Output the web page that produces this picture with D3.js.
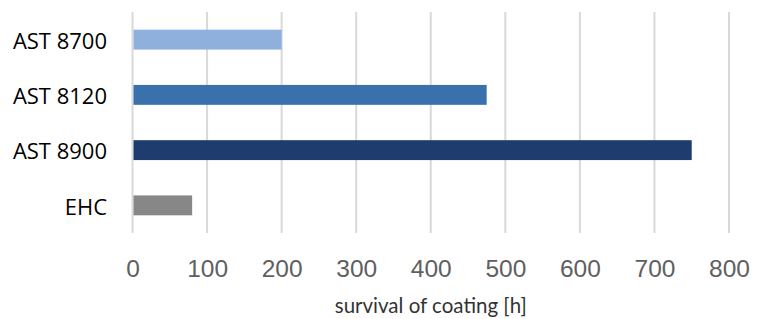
<!DOCTYPE html>
<html lang="en">
<head>
  <meta charset="UTF-8">
  <title>Survival of coating</title>
  <style type="text/css">
    body{
      margin: 0;
      background: #fff;
    }
    .grid line{
      stroke: #d9d9d9;
      stroke-width: 2px;
    }
    .cat text{
      font-family: "Open Sans", sans-serif;
      font-size: 22px;
      fill: #000;
    }
    .axis text{
      font-family: "Liberation Sans Narrow", sans-serif;
      font-size: 24.5px;
      fill: #606060;
    }
    .label{
      font-family: "Lato", sans-serif;
      font-size: 20.5px;
      fill: #333;
    }
  </style>
  <script type="text/javascript" src="https://d3js.org/d3.v7.min.js"></script>
</head>
<body>
<script type="text/javascript">
  var categories = ['AST 8700', 'AST 8120', 'AST 8900', 'EHC'];
  var hours = [200, 475, 750, 80];
  var colors = ['#8fb0dc', '#3a70ac', '#1e3d6e', '#878787'];
  var ticks = [0, 100, 200, 300, 400, 500, 600, 700, 800];

  var width = 766, height = 319;
  var margin = {top: 12, right: 35, bottom: 86, left: 132.5};

  var svg = d3.select('body')
    .append('svg')
    .attr('width', width)
    .attr('height', height);

  var xScale = d3.scaleLinear()
    .domain([0, 800])
    .range([margin.left, width - margin.right - 2]);

  var yScale = d3.scaleBand()
    .domain(categories)
    .range([margin.top, height - margin.bottom])
    .paddingInner(0.64)
    .paddingOuter(0.32);

  // vertical gridlines
  svg.append('g')
    .attr('class', 'grid')
    .selectAll('line')
    .data(ticks)
    .enter().append('line')
    .attr('x1', function(d){ return xScale(d); })
    .attr('x2', function(d){ return xScale(d); })
    .attr('y1', margin.top)
    .attr('y2', height - margin.bottom);

  // bars
  svg.selectAll('.bar')
    .data(categories)
    .enter().append('rect')
    .attr('class', 'bar')
    .attr('x', xScale(0) + 1)
    .attr('y', function(d){ return yScale(d); })
    .attr('width', function(d, i){ return xScale(hours[i]) - xScale(0) - 1; })
    .attr('height', yScale.bandwidth())
    .style('fill', function(d, i){ return colors[i]; });

  // category labels
  svg.append('g')
    .attr('class', 'cat')
    .selectAll('text')
    .data(categories)
    .enter().append('text')
    .attr('x', 107)
    .attr('y', function(d){ return yScale(d) + yScale.bandwidth() / 2; })
    .attr('dy', '0.42em')
    .attr('text-anchor', 'end')
    .text(function(d){ return d; });

  // x axis labels
  var xAxis = d3.axisBottom(xScale)
    .tickValues(ticks)
    .tickSize(0)
    .tickPadding(0);

  var gx = svg.append('g')
    .attr('class', 'axis')
    .attr('transform', 'translate(0,' + 259 + ')')
    .call(xAxis);
  gx.select('.domain').remove();
  gx.selectAll('text').attr('dy', '0.72em');

  svg.append('text')
    .attr('class', 'label')
    .attr('x', (xScale(0) + xScale(800)) / 2)
    .attr('y', 313)
    .attr('text-anchor', 'middle')
    .text('survival of coating [h]');
</script>
</body>
</html>
